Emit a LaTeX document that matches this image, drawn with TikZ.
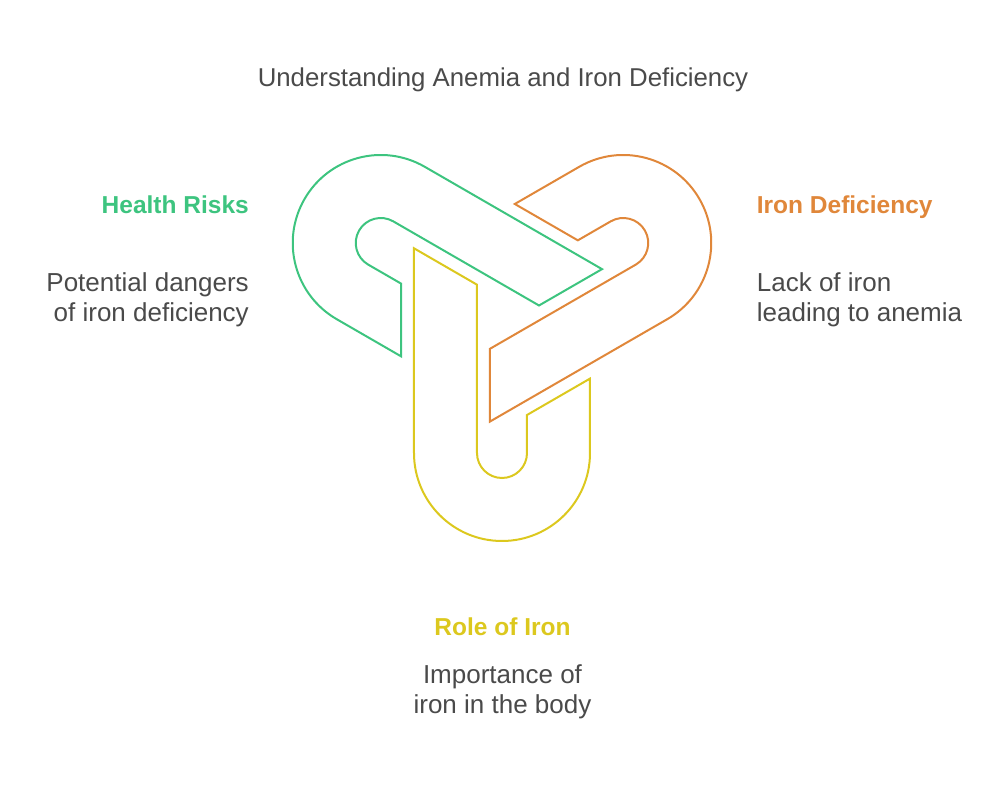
\documentclass[tikz,border=0pt]{standalone}
\usepackage{fontspec}
\setmainfont{Liberation Sans}
\usepackage{xcolor}
\usepackage{tikz}
\usetikzlibrary{positioning}
\definecolor{riskgreen}{HTML}{3DC47F}
\definecolor{lackorange}{HTML}{E0873A}
\definecolor{roleyellow}{HTML}{DCC81E}
\definecolor{bodygray}{HTML}{4A4A4A}
\tikzset{
  linkline/.style={line width=2pt, line join=miter},
  titletext/.style={inner sep=0pt, text=bodygray, font=\fontsize{25.8}{30}\selectfont},
  headtext/.style={inner sep=0pt, font=\fontsize{24.5}{30}\selectfont\bfseries},
  desctext/.style={inner sep=0pt, text=bodygray, font=\fontsize{26}{30}\selectfont}
}

\begin{document}
\begin{tikzpicture}[x=1pt, y=1pt]
\useasboundingbox (-502,-473) rectangle (503,313);
% three interlocking links, one shape turned about the centre
\foreach \ang/\col in {0/roleyellow, 120/lackorange, 240/riskgreen}{
  \draw[linkline, draw=\col, rotate=\ang] (-88,64.7) -- (-25,28.3) -- (-25,-140)
    arc[start angle=180, end angle=360, radius=25] -- (25,-102) -- (88,-65.6) -- (88,-140)
    arc[start angle=0, end angle=-180, radius=88] -- cycle;
}

\node[titletext, anchor=base] (title) at (1,226) {Understanding Anemia and Iron Deficiency};

\node[headtext, text=riskgreen, anchor=base east] (riskhead) at (-253,99.7) {Health Risks};
\node[desctext, align=right, anchor=base east] (riskdesc) at (-253,-8.7) {Potential dangers\\of iron deficiency};

\node[headtext, text=lackorange, anchor=base west] (lackhead) at (254.7,99.7) {Iron Deficiency};
\node[desctext, align=left, anchor=base west] (lackdesc) at (254.7,-8.7) {Lack of iron\\leading to anemia};

\node[headtext, text=roleyellow, anchor=base] (rolehead) at (0.5,-323) {Role of Iron};
\node[desctext, align=center, anchor=base] (roledesc) at (0.5,-400.3) {Importance of\\iron in the body};
\end{tikzpicture}
\end{document}
